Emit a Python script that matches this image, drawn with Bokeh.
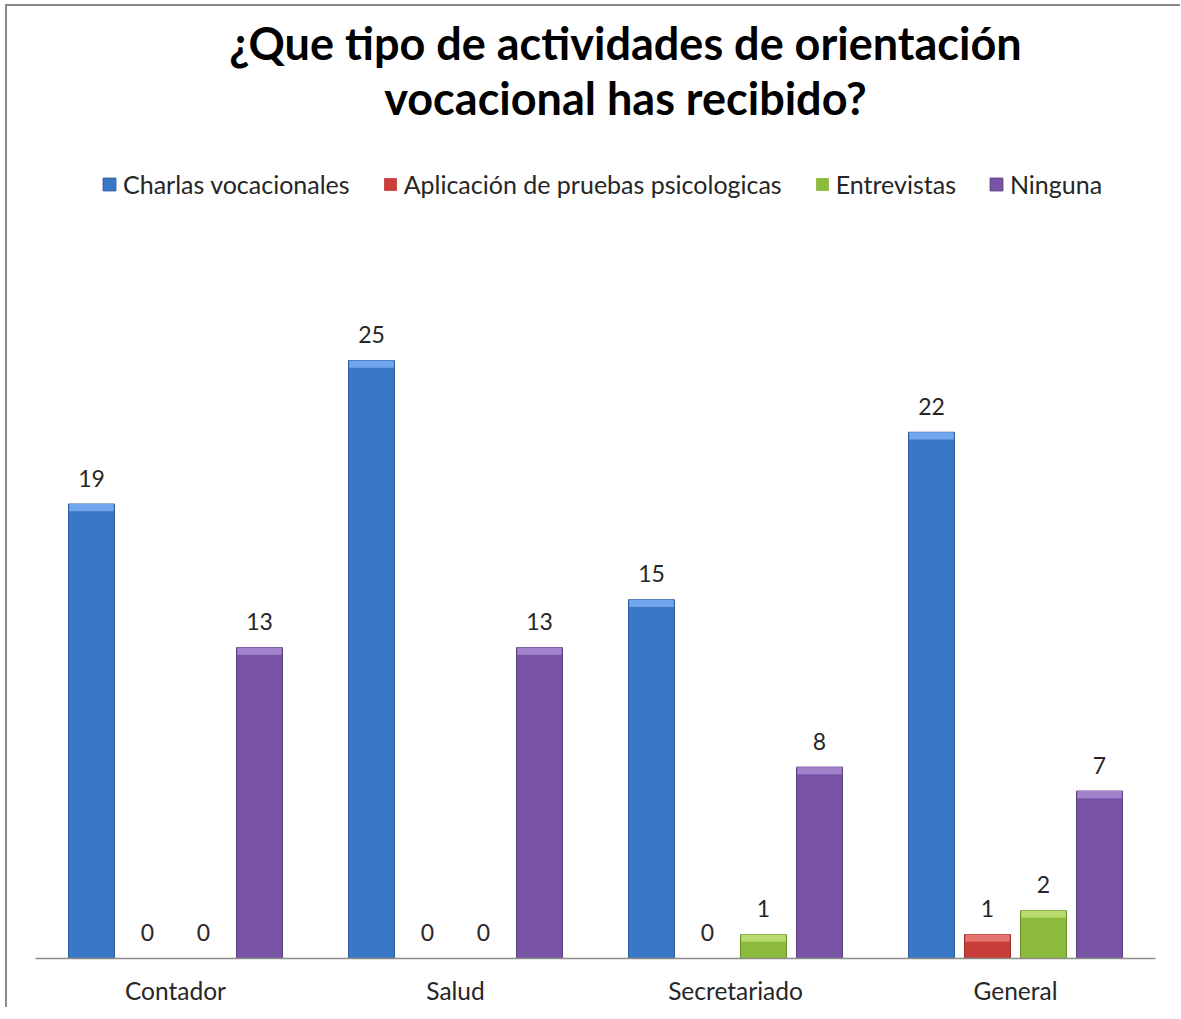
from bokeh.plotting import figure
from bokeh.models import FactorRange, Range1d, Label, Legend, LegendItem, ColumnDataSource
from bokeh.transform import dodge
from bokeh.embed import file_html
from bokeh.resources import INLINE
from bokeh.core.properties import value

# ---- data ----
categories = ["Contador", "Salud", "Secretariado", "General"]
series_names = ["Charlas vocacionales", "Aplicación de pruebas psicologicas", "Entrevistas", "Ninguna"]
charlas = [19, 25, 15, 22]
pruebas = [0, 0, 0, 1]
entrevistas = [0, 0, 1, 2]
ninguna = [13, 13, 8, 7]
title_line1 = "¿Que tipo de actividades de orientación"
title_line2 = "vocacional has recibido?"

# ---- style ----
series_values = [charlas, pruebas, entrevistas, ninguna]
colors = ["#3A77C7", "#C93E39", "#8CBA3A", "#7953A7"]
top_colors = ["#70A7EC", "#E5736D", "#B8DD6E", "#A382CC"]
edge_colors = ["#2B5A9A", "#952C28", "#6A8E2A", "#5A3D80"]
offsets = [-0.3, -0.1, 0.1, 0.3]
BAR_W = 0.164
FONT = "Lato"
TXT = "#262626"

PX_PER_UNIT = 23.92
FRAME_H = 950
FRAME_W = 1120

p = figure(x_range=FactorRange(*categories, range_padding=0),
           y_range=Range1d(0, FRAME_H / PX_PER_UNIT),
           frame_width=FRAME_W, frame_height=FRAME_H,
           min_border_left=28, min_border_right=25, min_border_top=2, min_border_bottom=48,
           y_axis_location=None, output_backend="svg", toolbar_location=None)
p.styles = {"border-left": "2px solid #8a8a8a", "border-top": "2px solid #8a8a8a",
            "margin-left": "5px", "margin-top": "4px"}
p.xgrid.grid_line_color = None
p.ygrid.grid_line_color = None
p.outline_line_color = None
p.background_fill_color = "white"
p.border_fill_color = "white"

ax = p.xaxis[0]
ax.axis_line_color = "#8c8c8c"
ax.axis_line_width = 1.5
ax.major_tick_line_color = None
ax.minor_tick_line_color = None
ax.major_label_text_font = FONT
ax.major_label_text_font_size = "24.5px"
ax.major_label_text_color = TXT
ax.major_label_standoff = 11

items = []
for i, (name, vals) in enumerate(zip(series_names, series_values)):
    src = ColumnDataSource(dict(cat=categories, val=vals,
                                strip=[max(v - 0.3, 0) for v in vals],
                                la=[1.0 if v > 0 else 0.0 for v in vals],
                                lab=[str(v) for v in vals]))
    xd = dodge("cat", offsets[i], range=p.x_range)
    r = p.vbar(x=xd, top="val", width=BAR_W, source=src,
               fill_color=colors[i], line_color=edge_colors[i], line_alpha="la",
               line_width=1)
    p.vbar(x=xd, top="val", bottom="strip", width=BAR_W * 0.97, source=src,
           fill_color=top_colors[i], line_color=None)
    p.text(x=xd, y="val", text="lab", source=src, text_align="center",
           text_baseline="middle", y_offset=-26, text_font=value(FONT),
           text_font_size="23px", text_color=TXT)
    items.append(LegendItem(label=name, renderers=[r]))

legend = Legend(items=items, orientation="horizontal", location=(66, 759),
                padding=0, margin=0, spacing=32, label_standoff=6,
                glyph_width=16, glyph_height=16, label_height=24,
                label_text_font=FONT, label_text_font_size="25px",
                label_text_color=TXT, border_line_color=None,
                background_fill_alpha=0)
p.add_layout(legend)

for txt, yy in [(title_line1, 916), (title_line2, 861)]:
    p.add_layout(Label(x=590, y=yy, x_units="screen", y_units="screen", text=txt,
                       text_align="center", text_baseline="middle", text_font=FONT,
                       text_font_style="bold", text_font_size="45px", text_color="#000000"))

open("out.html", "w").write(file_html(p, INLINE))
